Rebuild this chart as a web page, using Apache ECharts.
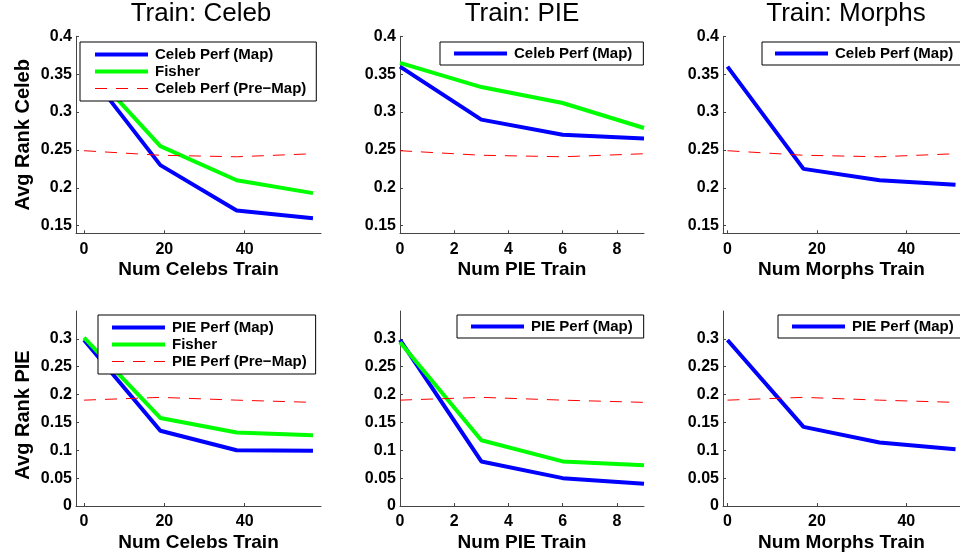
<!DOCTYPE html>
<html><head><meta charset="utf-8">
<script src="https://cdn.jsdelivr.net/npm/echarts@6/dist/echarts.min.js"></script>
<style>html,body{margin:0;padding:0;background:#fff}#c{width:960px;height:553px}</style>
</head><body><div id="c"></div>
<script>
// ---- data ----
const xCelebs = [0, 19, 38, 57];
const xPIE = [0, 3, 6, 9];
const xMorphs = [0, 17, 34, 51];

// Avg Rank Celeb (top row)
const celebMapTrainCeleb = [0.36, 0.23, 0.17, 0.16];
const fisherCelebTrainCeleb = [0.365, 0.255, 0.21, 0.193];
const celebMapTrainPIE = [0.36, 0.29, 0.27, 0.265];
const fisherCelebTrainPIE = [0.365, 0.333, 0.312, 0.279];
const celebMapTrainMorphs = [0.36, 0.225, 0.21, 0.204];
const celebPreMap = [0.249, 0.243, 0.241, 0.245];

// Avg Rank PIE (bottom row)
const pieMapTrainCeleb = [0.298, 0.135, 0.1, 0.099];
const fisherPIETrainCeleb = [0.302, 0.158, 0.132, 0.127];
const pieMapTrainPIE = [0.298, 0.08, 0.05, 0.04];
const fisherPIETrainPIE = [0.294, 0.118, 0.08, 0.073];
const pieMapTrainMorphs = [0.298, 0.142, 0.114, 0.102];
const piePreMap = [0.19, 0.195, 0.19, 0.186];

const titles = ['Train: Celeb', 'Train: PIE', 'Train: Morphs'];
const xNames = ['Num Celebs Train', 'Num PIE Train', 'Num Morphs Train'];
const yNames = ['Avg Rank Celeb', 'Avg Rank PIE'];
const xTickCelebs = [0, 20, 40];
const xTickPIE = [0, 2, 4, 6, 8];
const xTickMorphs = [0, 20, 40];
const yTickCeleb = [0.15, 0.2, 0.25, 0.3, 0.35, 0.4];
const yTickPIE = [0, 0.05, 0.1, 0.15, 0.2, 0.25, 0.3];

const nameCelebMap = 'Celeb Perf (Map)';
const nameCelebPre = 'Celeb Perf (Pre\u2212Map)';
const namePIEMap = 'PIE Perf (Map)';
const namePIEPre = 'PIE Perf (Pre\u2212Map)';
const nameFisher = 'Fisher';

// ---- build ----
const FONT = '"Liberation Sans", Arial, Helvetica, sans-serif';
const zip = (xs, ys) => xs.map((x, i) => [x, ys[i]]);

const gridLefts = [76, 400, 723];
const gridWidths = [245, 244, 246];
const rowTops = [36.3, 311];
const rowHeights = [197, 195];
const xRanges = [[-2, 59], [0, 9], [-1, 52]];
const xTickSets = [xTickCelebs, xTickPIE, xTickMorphs];
const yRanges = [[0.14, 0.4], [0, 0.35]];
const yTickSets = [yTickCeleb, yTickPIE];
const yNamePads = [[0, 0, 0, 0], [0, 13, 0, 0]];

const grids = [], xAxes = [], yAxes = [], series = [];
const axisLineStyle = { color: '#444', width: 1 };
for (let r = 0; r < 2; r++) {
  for (let c = 0; c < 3; c++) {
    const idx = r * 3 + c;
    grids.push({ left: gridLefts[c], top: rowTops[r], width: gridWidths[c], height: rowHeights[r], containLabel: false });
    xAxes.push({
      type: 'value', gridIndex: idx, min: xRanges[c][0], max: xRanges[c][1],
      name: xNames[c], nameLocation: 'middle', nameGap: 27,
      nameTextStyle: { fontFamily: FONT, fontWeight: 'bold', fontSize: 19, color: '#000' },
      axisLine: { show: true, onZero: false, lineStyle: axisLineStyle },
      axisTick: { show: true, inside: true, length: 3, customValues: xTickSets[c], lineStyle: axisLineStyle },
      axisLabel: { customValues: xTickSets[c], margin: 8, fontFamily: FONT, fontWeight: 'bold', fontSize: 16, color: '#000' },
      splitLine: { show: false }
    });
    yAxes.push({
      type: 'value', gridIndex: idx, min: yRanges[r][0], max: yRanges[r][1],
      name: c === 0 ? yNames[r] : '', nameLocation: 'middle', nameGap: 43, nameRotate: 90,
      nameTextStyle: { fontFamily: FONT, fontWeight: 'bold', fontSize: 20, color: '#000', padding: yNamePads[r] },
      axisLine: { show: true, onZero: false, lineStyle: axisLineStyle },
      axisTick: { show: true, inside: true, length: 3, customValues: yTickSets[r], lineStyle: axisLineStyle },
      axisLabel: { customValues: yTickSets[r], margin: 4, fontFamily: FONT, fontWeight: 'bold', fontSize: 16, color: '#000' },
      splitLine: { show: false }
    });
  }
}

const BLUE = '#0000ff', GREEN = '#00ff00', RED = '#ff0000';
const DASH = [12, 9];
function addLine(idx, name, xs, ys, color, width, dashed) {
  series.push({
    type: 'line', name, xAxisIndex: idx, yAxisIndex: idx, data: zip(xs, ys),
    symbol: 'none', silent: true, clip: true,
    lineStyle: { color, width, type: dashed ? DASH : 'solid' },
    itemStyle: { color },
    z: dashed ? 4 : 3
  });
}
// top row
addLine(0, nameCelebMap, xCelebs, celebMapTrainCeleb, BLUE, 4);
addLine(0, nameFisher, xCelebs, fisherCelebTrainCeleb, GREEN, 4);
addLine(0, nameCelebPre, xCelebs, celebPreMap, RED, 1, true);
addLine(1, nameCelebMap, xPIE, celebMapTrainPIE, BLUE, 4);
addLine(1, nameFisher, xPIE, fisherCelebTrainPIE, GREEN, 4);
addLine(1, nameCelebPre, xPIE, celebPreMap, RED, 1, true);
addLine(2, nameCelebMap, xMorphs, celebMapTrainMorphs, BLUE, 4);
addLine(2, nameCelebPre, xMorphs, celebPreMap, RED, 1, true);
// bottom row
addLine(3, namePIEMap, xCelebs, pieMapTrainCeleb, BLUE, 4);
addLine(3, nameFisher, xCelebs, fisherPIETrainCeleb, GREEN, 4);
addLine(3, namePIEPre, xCelebs, piePreMap, RED, 1, true);
addLine(4, namePIEMap, xPIE, pieMapTrainPIE, BLUE, 4);
addLine(4, nameFisher, xPIE, fisherPIETrainPIE, GREEN, 4);
addLine(4, namePIEPre, xPIE, piePreMap, RED, 1, true);
addLine(5, namePIEMap, xMorphs, pieMapTrainMorphs, BLUE, 4);
addLine(5, namePIEPre, xMorphs, piePreMap, RED, 1, true);

const legendBase = {
  orient: 'vertical', itemGap: 0, itemWidth: 53, itemHeight: 17,
  borderColor: '#000', borderWidth: 1, backgroundColor: '#fff', borderRadius: 0,
  selectedMode: false,
  textStyle: { fontFamily: FONT, fontWeight: 'bold', fontSize: 15, lineHeight: 17, color: '#000', padding: [0, 0, 0, 2] }
};
const item = (name, w, color, dashed) => ({
  name,
  lineStyle: { width: w, color, type: dashed ? DASH : 'solid', opacity: 1 },
  itemStyle: { opacity: 0, borderWidth: 0 }
});
const legends = [
  Object.assign({}, legendBase, { left: 80, top: 42, padding: [4, 10, 4, 13], data: [item(nameCelebMap, 4, BLUE), item(nameFisher, 4, GREEN), item(nameCelebPre, 1.2, RED, true)] }),
  Object.assign({}, legendBase, { left: 440, top: 42, padding: [3, 11, 3, 12], data: [item(nameCelebMap, 4, BLUE)] }),
  Object.assign({}, legendBase, { left: 762, top: 42, padding: [3, 40, 3, 11], data: [item(nameCelebMap, 4, BLUE)] }),
  Object.assign({}, legendBase, { left: 98, top: 315, padding: [4, 9, 4, 12], data: [item(namePIEMap, 4, BLUE), item(nameFisher, 4, GREEN), item(namePIEPre, 1.2, RED, true)] }),
  Object.assign({}, legendBase, { left: 457, top: 315, padding: [3, 11, 3, 12], data: [item(namePIEMap, 4, BLUE)] }),
  Object.assign({}, legendBase, { left: 778, top: 315, padding: [3, 40, 3, 12], data: [item(namePIEMap, 4, BLUE)] })
];

const titleCenters = [201, 522, 846];
const titleComps = titles.map((t, i) => ({
  text: t, left: titleCenters[i], top: 1, textAlign: 'center', padding: 0,
  textStyle: { fontFamily: FONT, fontWeight: 'normal', fontSize: 26, color: '#000' }
}));

const chart = echarts.init(document.getElementById('c'), null, { renderer: 'canvas' });
chart.setOption({
  animation: false,
  backgroundColor: '#fff',
  title: titleComps,
  grid: grids, xAxis: xAxes, yAxis: yAxes,
  legend: legends,
  series
});
</script></body></html>
